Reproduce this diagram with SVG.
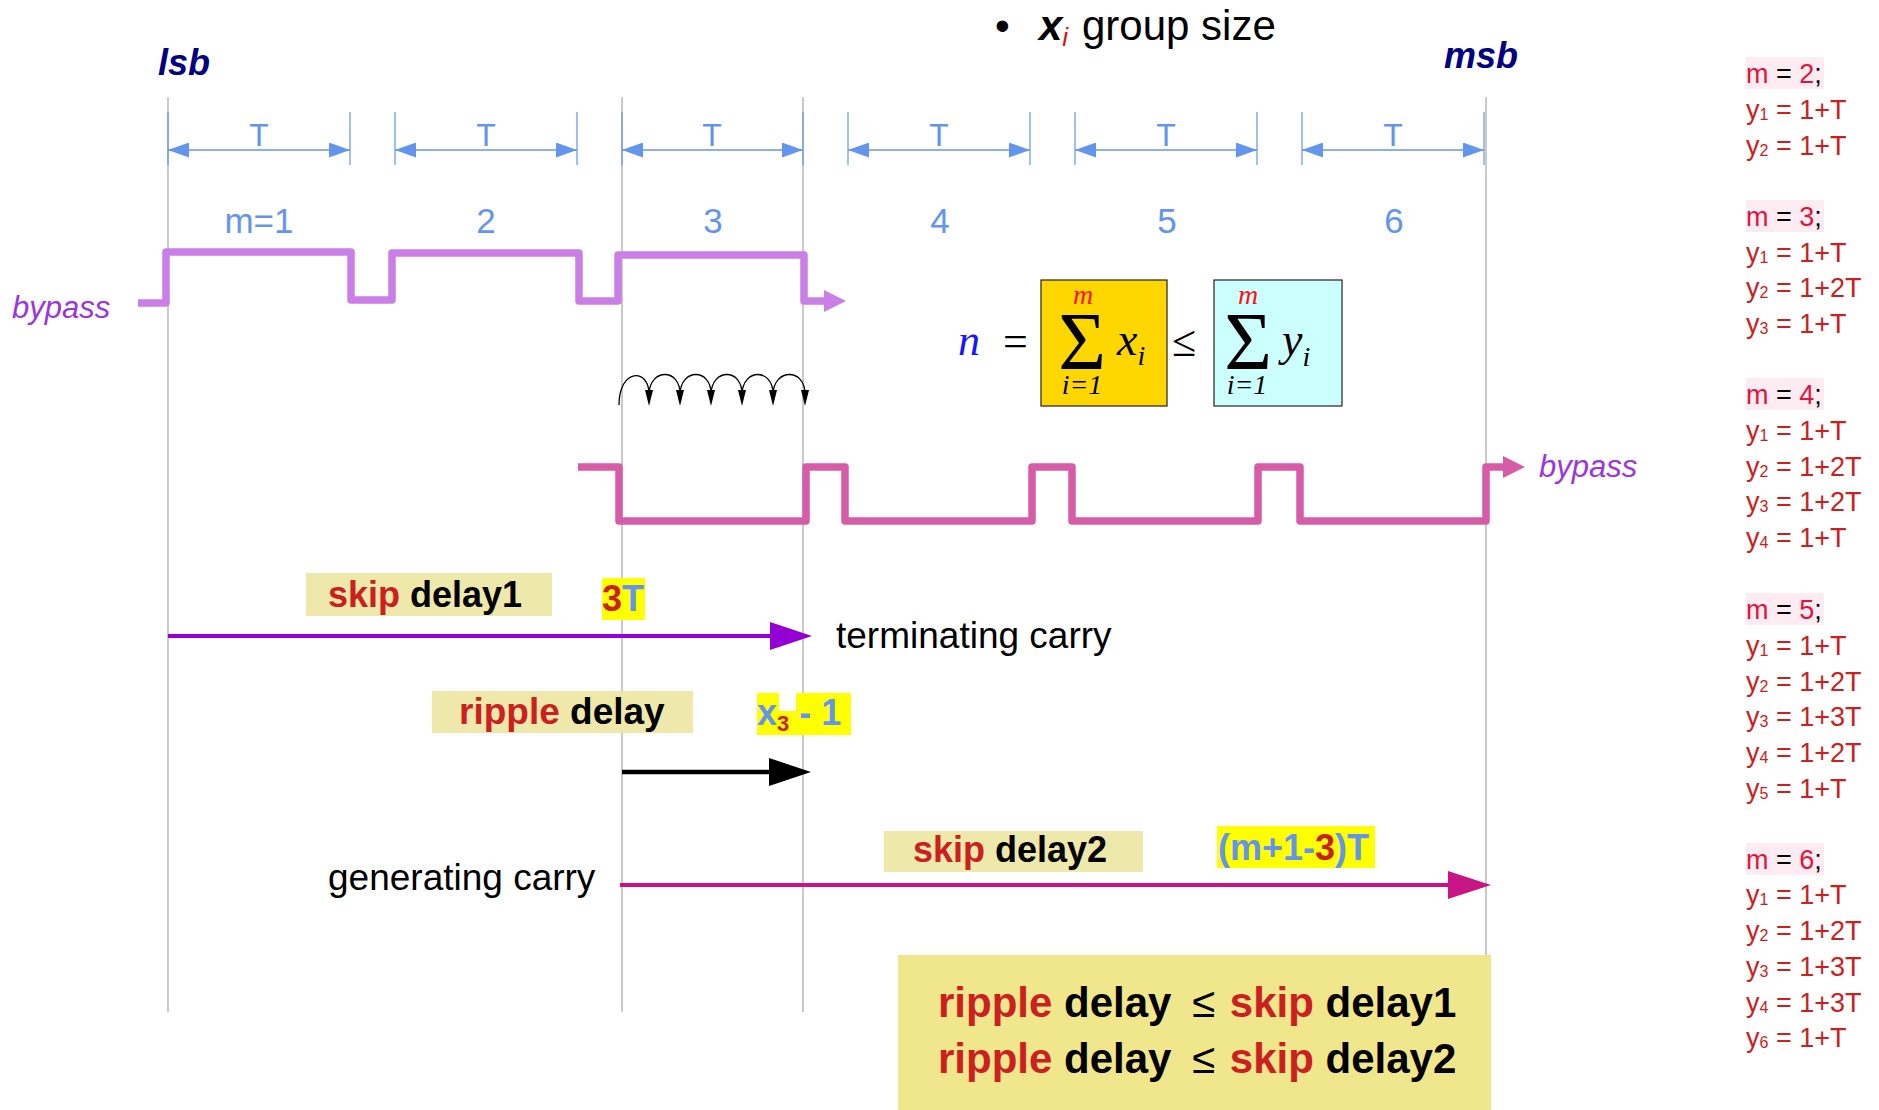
<svg xmlns="http://www.w3.org/2000/svg" width="1879" height="1110" viewBox="0 0 1879 1110">
<style>
text{font-family:"Liberation Sans",Arial,sans-serif}
.grid{stroke:#a6a6a6;stroke-width:1.2;fill:none}
.dim{stroke:#6495ed;stroke-width:1.5;fill:none}
.tick{stroke:#6495ed;stroke-width:1.2}
.dimT{font-size:32px;fill:#6495ed;text-anchor:middle}
.seg{font-size:35px;fill:#6495ed;text-anchor:middle}
.bit{font-size:36px;font-weight:bold;font-style:italic;fill:#000080}
.byp{font-size:31px;font-style:italic;fill:#9b35e0}
.lbl{font-size:36px;font-weight:bold;fill:#000}
.red{fill:#cc2020}
.blu{fill:#6495ed}
.plain{font-size:37px;fill:#000}
.serif{font-family:"Liberation Serif","Times New Roman",serif;font-style:italic}
.side{font-size:27px;fill:#cc2020}
.mrow{font-size:27px;fill:#000}
.crim{fill:#e0143c}
.hl{fill:#ffecf2}
</style>
<defs>
<marker id="dimhead" viewBox="0 0 21 15" refX="21" refY="7.5" markerWidth="21" markerHeight="15" markerUnits="userSpaceOnUse" orient="auto-start-reverse">
<path d="M0,0 L21,7.5 L0,15 z" fill="#6495ed"/>
</marker>
</defs>

<g id="grid-lines">
<line class="grid" x1="168" y1="97" x2="168" y2="1012"/>
<line class="grid" x1="622" y1="97" x2="622" y2="1012"/>
<line class="grid" x1="803" y1="97" x2="803" y2="1012"/>
<line class="grid" x1="1486" y1="97" x2="1486" y2="956"/>
</g>

<g id="title">
<text x="995" y="40" style="font-size:42px">•</text>
<text x="1039" y="40" style="font-size:42px"><tspan font-weight="bold" font-style="italic">x</tspan><tspan font-style="italic" fill="#dd1111" font-size="26" dy="6">i</tspan><tspan dy="-6" x="1082">group size</tspan></text>
</g>

<g id="lsb"><text class="bit" x="158" y="75">lsb</text></g>
<g id="msb"><text class="bit" x="1444" y="68">msb</text></g>

<g id="dimensions">
<g id="dim1"><line class="tick" x1="168" y1="112" x2="168" y2="165"/><line class="tick" x1="350" y1="112" x2="350" y2="165"/><line class="dim" x1="168" y1="150" x2="350" y2="150" marker-start="url(#dimhead)" marker-end="url(#dimhead)"/><text class="dimT" x="259" y="146">T</text></g>
<g id="dim2"><line class="tick" x1="395" y1="112" x2="395" y2="165"/><line class="tick" x1="577" y1="112" x2="577" y2="165"/><line class="dim" x1="395" y1="150" x2="577" y2="150" marker-start="url(#dimhead)" marker-end="url(#dimhead)"/><text class="dimT" x="486" y="146">T</text></g>
<g id="dim3"><line class="tick" x1="622" y1="112" x2="622" y2="165"/><line class="tick" x1="803" y1="112" x2="803" y2="165"/><line class="dim" x1="622" y1="150" x2="803" y2="150" marker-start="url(#dimhead)" marker-end="url(#dimhead)"/><text class="dimT" x="712" y="146">T</text></g>
<g id="dim4"><line class="tick" x1="848" y1="112" x2="848" y2="165"/><line class="tick" x1="1030" y1="112" x2="1030" y2="165"/><line class="dim" x1="848" y1="150" x2="1030" y2="150" marker-start="url(#dimhead)" marker-end="url(#dimhead)"/><text class="dimT" x="939" y="146">T</text></g>
<g id="dim5"><line class="tick" x1="1075" y1="112" x2="1075" y2="165"/><line class="tick" x1="1257" y1="112" x2="1257" y2="165"/><line class="dim" x1="1075" y1="150" x2="1257" y2="150" marker-start="url(#dimhead)" marker-end="url(#dimhead)"/><text class="dimT" x="1166" y="146">T</text></g>
<g id="dim6"><line class="tick" x1="1302" y1="112" x2="1302" y2="165"/><line class="tick" x1="1484" y1="112" x2="1484" y2="165"/><line class="dim" x1="1302" y1="150" x2="1484" y2="150" marker-start="url(#dimhead)" marker-end="url(#dimhead)"/><text class="dimT" x="1393" y="146">T</text></g>
</g>

<g id="segment-labels">
<text class="seg" x="259" y="233">m=1</text>
<text class="seg" x="486" y="233">2</text>
<text class="seg" x="713" y="233">3</text>
<text class="seg" x="940" y="233">4</text>
<text class="seg" x="1167" y="233">5</text>
<text class="seg" x="1394" y="233">6</text>
</g>

<g id="bypass-left"><text class="byp" x="12" y="318">bypass</text></g>
<g id="bypass-right"><text class="byp" x="1539" y="477">bypass</text></g>

<g id="formula">
<rect x="1041" y="280" width="126" height="126" fill="#ffd700" stroke="#222" stroke-width="1.2"/>
<rect x="1214" y="280" width="128" height="126" fill="#ccffff" stroke="#222" stroke-width="1.2"/>
<text class="serif" x="958" y="355" font-size="44" fill="#1515ff">n</text>
<text x="1003" y="356" font-size="44" style="font-family:'Liberation Serif',serif">=</text>
<text x="1082" y="369" font-size="82" text-anchor="middle" style="font-family:'Liberation Serif',serif">Σ</text>
<text class="serif" x="1083" y="304" font-size="28" fill="#ff1010" text-anchor="middle">m</text>
<text class="serif" x="1082" y="394" font-size="28" text-anchor="middle">i=1</text>
<text class="serif" x="1117" y="355" font-size="46">x<tspan font-size="28" dy="10">i</tspan></text>
<text x="1172" y="356" font-size="44" style="font-family:'Liberation Serif',serif">≤</text>
<text x="1248" y="369" font-size="82" text-anchor="middle" style="font-family:'Liberation Serif',serif">Σ</text>
<text class="serif" x="1248" y="304" font-size="28" fill="#ff1010" text-anchor="middle">m</text>
<text class="serif" x="1247" y="394" font-size="28" text-anchor="middle">i=1</text>
<text class="serif" x="1282" y="355" font-size="46">y<tspan font-size="28" dy="11">i</tspan></text>
</g>

<g id="connectors">
<path d="M138,303 H166 V252 H351 V300 H392 V253 H579 V301 H618 V255 H804 V301 H825" fill="none" stroke="#c97fe6" stroke-width="7.5" stroke-linejoin="round"/>
<polygon points="824,290 846,301 824,312" fill="#c97fe6"/>
<path d="M578,467 H619 V521 H806 V467 H845 V521 H1032 V467 H1072 V521 H1258 V467 H1300 V521 H1486 V467 H1504" fill="none" stroke="#d65ca8" stroke-width="7.5" stroke-linejoin="round"/>
<polygon points="1503,456 1525,467 1503,478" fill="#d65ca8"/>
<g id="ripple-hops" fill="none" stroke="#000" stroke-width="1.3">
<path d="M619,405 C619,368 649,368 649,394"/>
<path d="M649,394 C650,368 680,368 680,394"/>
<path d="M680,394 C681,368 711,368 711,394"/>
<path d="M711,394 C712,368 742,368 742,394"/>
<path d="M742,394 C743,368 773,368 773,394"/>
<path d="M773,394 C774,368 805,368 805,394"/>
</g>
<g id="ripple-heads" fill="#000">
<polygon points="645,390 653,390 649,406"/>
<polygon points="676,390 684,390 680,406"/>
<polygon points="707,390 715,390 711,406"/>
<polygon points="738,390 746,390 742,406"/>
<polygon points="769,390 777,390 773,406"/>
<polygon points="801,390 809,390 805,406"/>
</g>
<line x1="168" y1="636" x2="772" y2="636" stroke="#9400d3" stroke-width="4"/>
<polygon points="770,622 812,636 770,650" fill="#9400d3"/>
<line x1="622" y1="772" x2="771" y2="772" stroke="#000" stroke-width="4.5"/>
<polygon points="769,758 811,772 769,786" fill="#000"/>
<line x1="620" y1="885" x2="1450" y2="885" stroke="#c71585" stroke-width="4"/>
<polygon points="1448,871 1491,885 1448,899" fill="#c71585"/>
</g>

<g id="skip-delay1">
<rect x="306" y="573" width="246" height="43" fill="#eee8aa"/>
<text class="lbl" x="328" y="607"><tspan class="red">skip</tspan> delay1</text>
</g>
<g id="label-3T">
<rect x="602" y="578" width="43" height="42" fill="#ffff00"/>
<text class="lbl" x="602" y="611"><tspan class="red">3</tspan><tspan class="blu">T</tspan></text>
</g>
<g id="terminating-carry"><text class="plain" x="836" y="648">terminating carry</text></g>

<g id="ripple-delay">
<rect x="432" y="691" width="261" height="42" fill="#eee8aa"/>
<text class="lbl" x="459" y="724" style="font-size:37px"><tspan class="red">ripple</tspan> delay</text>
</g>
<g id="label-x3">
<rect x="757" y="693" width="22" height="42" fill="#ffff00"/>
<rect x="778" y="711" width="19" height="24" fill="#ffff00"/>
<rect x="796" y="693" width="55" height="42" fill="#ffff00"/>
<text class="lbl" x="757" y="725"><tspan class="blu">x</tspan><tspan class="red" font-size="22" dy="6">3</tspan><tspan class="blu" dy="-6"> - 1</tspan></text>
</g>

<g id="generating-carry"><text class="plain" x="328" y="890">generating carry</text></g>

<g id="skip-delay2">
<rect x="884" y="831" width="259" height="41" fill="#eee8aa"/>
<text class="lbl" x="913" y="862"><tspan class="red">skip</tspan> delay2</text>
</g>
<g id="label-m13T">
<rect x="1217" y="826" width="158" height="42" fill="#ffff00"/>
<text class="lbl" x="1218" y="860"><tspan class="blu">(m+1-</tspan><tspan class="red">3</tspan><tspan class="blu">)T</tspan></text>
</g>

<g id="condition-box">
<rect x="898" y="955" width="593" height="155" fill="#f0e68c"/>
<text x="938" y="1017" style="font-size:42px;font-weight:bold"><tspan class="red">ripple</tspan> delay <tspan font-weight="normal" dx="9">≤</tspan> <tspan class="red" dx="3">skip</tspan> delay1</text>
<text x="938" y="1073" style="font-size:42px;font-weight:bold"><tspan class="red">ripple</tspan> delay <tspan font-weight="normal" dx="9">≤</tspan> <tspan class="red" dx="3">skip</tspan> delay2</text>
</g>

<g id="m2">
<rect class="hl" x="1746" y="57" width="78" height="32"/>
<text class="mrow" x="1746" y="83"><tspan class="crim">m</tspan> = <tspan class="crim">2</tspan>;</text>
<text class="side" x="1746" y="119">y<tspan font-size="16" dy="1">1</tspan><tspan dy="-1"> = 1+T</tspan></text>
<text class="side" x="1746" y="155">y<tspan font-size="16" dy="1">2</tspan><tspan dy="-1"> = 1+T</tspan></text>
</g>
<g id="m3">
<rect class="hl" x="1746" y="200" width="78" height="32"/>
<text class="mrow" x="1746" y="226"><tspan class="crim">m</tspan> = <tspan class="crim">3</tspan>;</text>
<text class="side" x="1746" y="262">y<tspan font-size="16" dy="1">1</tspan><tspan dy="-1"> = 1+T</tspan></text>
<text class="side" x="1746" y="297">y<tspan font-size="16" dy="1">2</tspan><tspan dy="-1"> = 1+2T</tspan></text>
<text class="side" x="1746" y="333">y<tspan font-size="16" dy="1">3</tspan><tspan dy="-1"> = 1+T</tspan></text>
</g>
<g id="m4">
<rect class="hl" x="1746" y="378" width="78" height="32"/>
<text class="mrow" x="1746" y="404"><tspan class="crim">m</tspan> = <tspan class="crim">4</tspan>;</text>
<text class="side" x="1746" y="440">y<tspan font-size="16" dy="1">1</tspan><tspan dy="-1"> = 1+T</tspan></text>
<text class="side" x="1746" y="476">y<tspan font-size="16" dy="1">2</tspan><tspan dy="-1"> = 1+2T</tspan></text>
<text class="side" x="1746" y="511">y<tspan font-size="16" dy="1">3</tspan><tspan dy="-1"> = 1+2T</tspan></text>
<text class="side" x="1746" y="547">y<tspan font-size="16" dy="1">4</tspan><tspan dy="-1"> = 1+T</tspan></text>
</g>
<g id="m5">
<rect class="hl" x="1746" y="593" width="78" height="32"/>
<text class="mrow" x="1746" y="619"><tspan class="crim">m</tspan> = <tspan class="crim">5</tspan>;</text>
<text class="side" x="1746" y="655">y<tspan font-size="16" dy="1">1</tspan><tspan dy="-1"> = 1+T</tspan></text>
<text class="side" x="1746" y="691">y<tspan font-size="16" dy="1">2</tspan><tspan dy="-1"> = 1+2T</tspan></text>
<text class="side" x="1746" y="726">y<tspan font-size="16" dy="1">3</tspan><tspan dy="-1"> = 1+3T</tspan></text>
<text class="side" x="1746" y="762">y<tspan font-size="16" dy="1">4</tspan><tspan dy="-1"> = 1+2T</tspan></text>
<text class="side" x="1746" y="798">y<tspan font-size="16" dy="1">5</tspan><tspan dy="-1"> = 1+T</tspan></text>
</g>
<g id="m6">
<rect class="hl" x="1746" y="843" width="78" height="32"/>
<text class="mrow" x="1746" y="869"><tspan class="crim">m</tspan> = <tspan class="crim">6</tspan>;</text>
<text class="side" x="1746" y="904">y<tspan font-size="16" dy="1">1</tspan><tspan dy="-1"> = 1+T</tspan></text>
<text class="side" x="1746" y="940">y<tspan font-size="16" dy="1">2</tspan><tspan dy="-1"> = 1+2T</tspan></text>
<text class="side" x="1746" y="976">y<tspan font-size="16" dy="1">3</tspan><tspan dy="-1"> = 1+3T</tspan></text>
<text class="side" x="1746" y="1012">y<tspan font-size="16" dy="1">4</tspan><tspan dy="-1"> = 1+3T</tspan></text>
<text class="side" x="1746" y="1047">y<tspan font-size="16" dy="1">6</tspan><tspan dy="-1"> = 1+T</tspan></text>
</g>
</svg>
